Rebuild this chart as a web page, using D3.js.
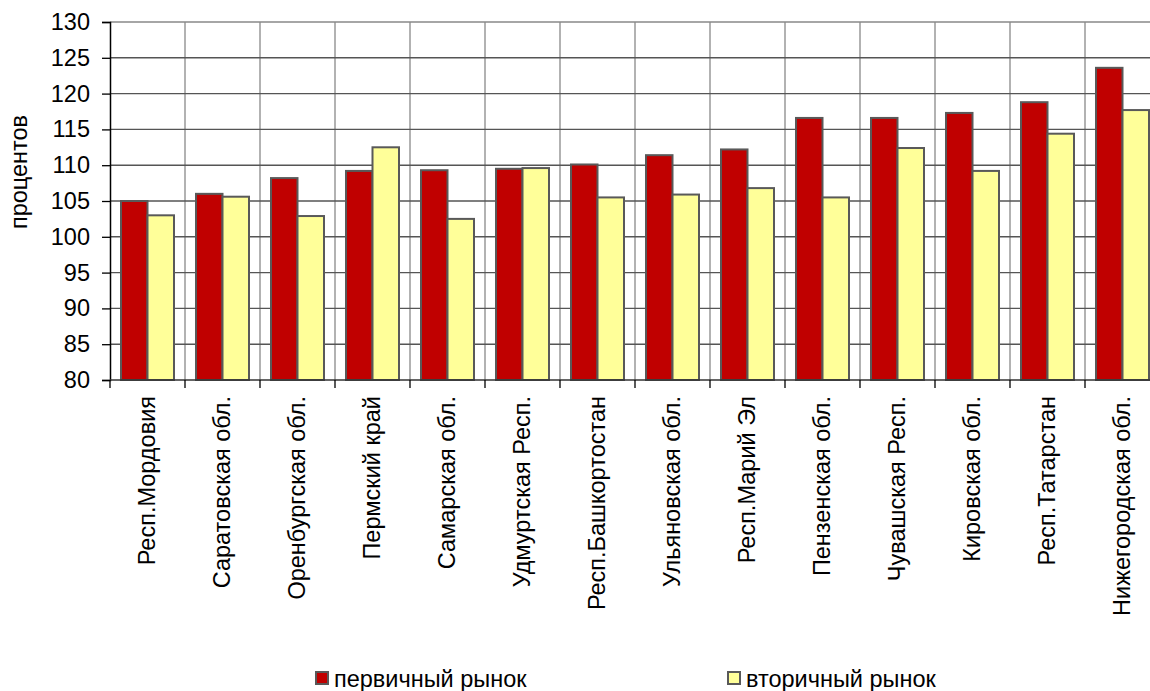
<!DOCTYPE html>
<html>
<head>
<meta charset="utf-8">
<script src="https://d3js.org/d3.v7.min.js"></script>
<style>
  body { margin: 0; background: #fff; }
  svg { display: block; font-family: "Liberation Sans", Arial, sans-serif; }
</style>
</head>
<body>
<script>
// regions and price indices, percent
var regions = ["Респ.Мордовия", "Саратовская обл.", "Оренбургская обл.", "Пермский край",
  "Самарская обл.", "Удмуртская Респ.", "Респ.Башкортостан", "Ульяновская обл.",
  "Респ.Марий Эл", "Пензенская обл.", "Чувашская Респ.", "Кировская обл.",
  "Респ.Татарстан", "Нижегородская обл."];
var primary   = [105.0, 106.0, 108.2, 109.2, 109.3, 109.5, 110.1, 111.4, 112.2, 116.6, 116.6, 117.3, 118.8, 123.6];
var secondary = [103.0, 105.6, 102.9, 112.5, 102.5, 109.6, 105.5, 105.9, 106.8, 105.5, 112.4, 109.2, 114.4, 117.7];
var seriesNames = ["первичный рынок", "вторичный рынок"];
var seriesColors = ["#C00000", "#FFFF99"];
var yTicks = [80, 85, 90, 95, 100, 105, 110, 115, 120, 125, 130];

var width = 1150, height = 691;
var plotLeft = 110, plotTop = 22, plotBottom = 380;
var bandW = 75;
var plotRight = plotLeft + bandW * regions.length;   // runs past the picture edge, as in the original
var fs = "23.5px";

var svg = d3.select("body").append("svg")
    .attr("width", width)
    .attr("height", height);

var x = d3.scaleBand().domain(regions).range([plotLeft, plotRight]);
var pad = 11;
var x1 = d3.scaleBand().domain([0, 1]).range([pad, x.bandwidth() - pad]);
var y = d3.scaleLinear().domain([80, 130]).range([plotBottom, plotTop]);

// vertical grid at category boundaries
svg.append("g").selectAll("line")
    .data(regions.slice(1))
    .enter().append("line")
    .attr("x1", function(d) { return x(d); })
    .attr("x2", function(d) { return x(d); })
    .attr("y1", plotTop).attr("y2", plotBottom)
    .attr("stroke", "#999").attr("stroke-width", 1.5);

// horizontal grid
svg.append("g").selectAll("line")
    .data(yTicks.slice(1))
    .enter().append("line")
    .attr("x1", plotLeft).attr("x2", plotRight)
    .attr("y1", function(d) { return y(d); })
    .attr("y2", function(d) { return y(d); })
    .attr("stroke", function(d) { return d == 130 ? "#888" : "#555"; })
    .attr("stroke-width", 1.4);

// bars
var rows = regions.map(function(r, i) { return { name: r, vals: [primary[i], secondary[i]] }; });
var grp = svg.append("g").selectAll("g")
    .data(rows)
    .enter().append("g")
    .attr("transform", function(d) { return "translate(" + x(d.name) + ",0)"; });

grp.selectAll("rect")
    .data(function(d) { return d.vals; })
    .enter().append("rect")
    .attr("x", function(d, i) { return x1(i); })
    .attr("width", x1.bandwidth())
    .attr("y", function(d) { return y(d); })
    .attr("height", function(d) { return plotBottom - y(d); })
    .attr("fill", function(d, i) { return seriesColors[i]; })
    .attr("stroke", "#595959")
    .attr("stroke-width", 2);

// y axis
var yAxis = svg.append("g")
    .attr("transform", "translate(" + plotLeft + ",0)")
    .call(d3.axisLeft(y).tickValues(yTicks).tickSize(8).tickPadding(12));
yAxis.select(".domain").attr("stroke", "#000").attr("stroke-width", 1.5);
yAxis.selectAll(".tick line").attr("stroke", "#000").attr("stroke-width", 1.3);
yAxis.selectAll("text").attr("font-size", fs).attr("fill", "#000")
    .attr("font-family", "Liberation Sans, Arial, sans-serif");

// x axis line and boundary ticks
svg.append("line")
    .attr("x1", plotLeft).attr("x2", plotRight)
    .attr("y1", plotBottom).attr("y2", plotBottom)
    .attr("stroke", "#333").attr("stroke-width", 1.5);
svg.append("g").selectAll("line")
    .data(regions)
    .enter().append("line")
    .attr("x1", function(d) { return x(d); })
    .attr("x2", function(d) { return x(d); })
    .attr("y1", plotBottom).attr("y2", plotBottom + 8)
    .attr("stroke", "#000").attr("stroke-width", 1.3);

// category labels, vertical
svg.append("g").selectAll("text")
    .data(regions)
    .enter().append("text")
    .attr("transform", function(d) {
        return "translate(" + (x(d) + x.bandwidth() / 2 - 1) + "," + (plotBottom + 16) + ") rotate(-90)";
    })
    .attr("text-anchor", "end")
    .attr("dy", "0.35em")
    .attr("font-size", fs)
    .text(function(d) { return d; });

// y title
svg.append("text")
    .attr("transform", "translate(19,172) rotate(-90)")
    .attr("text-anchor", "middle")
    .attr("dy", "0.35em")
    .attr("font-size", fs)
    .text("процентов");

// legend
var legX = [315, 727];
var leg = svg.append("g").selectAll("g")
    .data(seriesNames)
    .enter().append("g")
    .attr("transform", function(d, i) { return "translate(" + legX[i] + ",670)"; });
leg.append("rect")
    .attr("x", 1).attr("y", 2)
    .attr("width", 12).attr("height", 12)
    .attr("fill", function(d, i) { return seriesColors[i]; })
    .attr("stroke", "#595959").attr("stroke-width", 2);
leg.append("text")
    .attr("x", 19).attr("y", 17)
    .attr("font-size", fs)
    .text(function(d) { return d; });
</script>
</body>
</html>
